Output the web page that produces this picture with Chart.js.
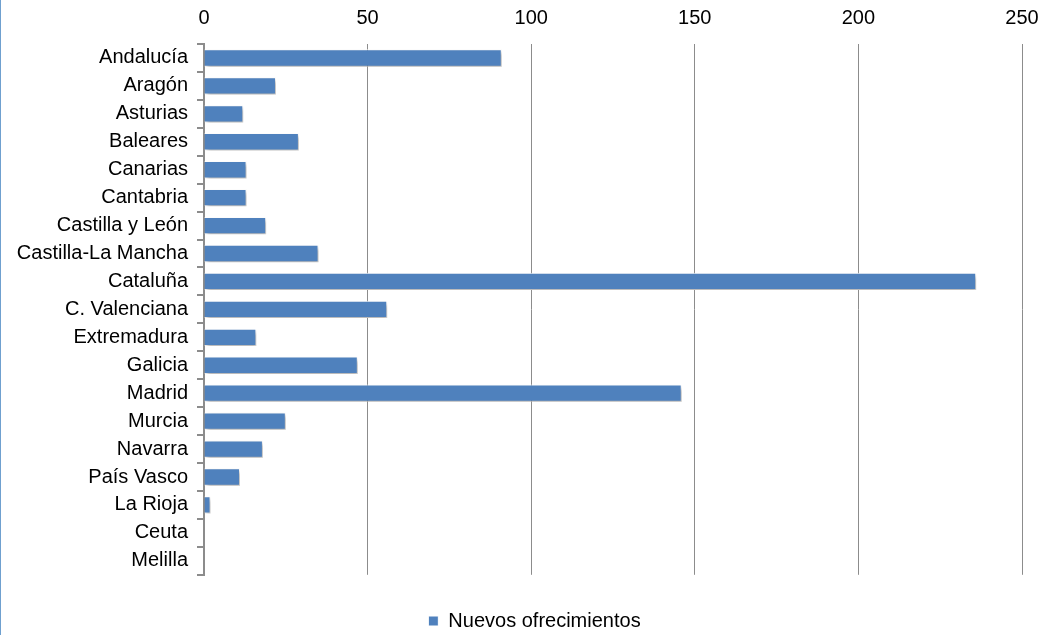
<!DOCTYPE html>
<html>
<head>
<meta charset="utf-8">
<script src="https://cdn.jsdelivr.net/npm/chart.js@4"></script>
<style>
  html, body { margin: 0; padding: 0; background: #fff; }
  #wrap { width: 1041px; height: 635px; border-left: 1px solid #6fa0cf; position: relative; }
</style>
</head>
<body>
<div id="wrap"><canvas id="chart"></canvas></div>
<script>
const regiones = ['Andalucía', 'Aragón', 'Asturias', 'Baleares', 'Canarias', 'Cantabria',
    'Castilla y León', 'Castilla-La Mancha', 'Cataluña', 'C. Valenciana', 'Extremadura',
    'Galicia', 'Madrid', 'Murcia', 'Navarra', 'País Vasco', 'La Rioja', 'Ceuta', 'Melilla'];
const ofrecimientos = [91, 22, 12, 29, 13, 13, 19, 35, 236, 56, 16, 47, 146, 25, 18, 11, 2, 0, 0];
const serieNombre = 'Nuevos ofrecimientos';

// sombra suave bajo las barras, como en el original
const barShadow = {
    id: 'barShadow',
    beforeDatasetsDraw: function (chart) {
        const ctx = chart.ctx;
        ctx.save();
        ctx.shadowColor = 'rgba(0, 0, 0, 0.3)';
        ctx.shadowBlur = 4;
        ctx.shadowOffsetX = 2;
        ctx.shadowOffsetY = 3;
    },
    afterDatasetsDraw: function (chart) {
        chart.ctx.restore();
    }
};

// la leyenda del original no está centrada en el lienzo
const legendShift = {
    id: 'legendShift',
    afterLayout: function (chart) {
        if (chart.legend) {
            chart.legend.left += 23;
            chart.legend.right += 23;
        }
    }
};

Chart.defaults.font.family = '"Liberation Sans", Arial, sans-serif';
Chart.defaults.font.size = 20;
Chart.defaults.color = '#000';

const data = {
    labels: regiones,
    datasets: [{
        label: serieNombre,
        data: ofrecimientos,
        backgroundColor: '#4f81bd',
        borderColor: '#ffffff',
        borderWidth: 1,
        barPercentage: 0.62,
        categoryPercentage: 1.0,
    }]
};

const config = {
    type: 'bar',
    data: data,
    plugins: [barShadow, legendShift],
    options: {
        indexAxis: 'y',
        responsive: true,
        maintainAspectRatio: false,
        animation: false,
        layout: {
            padding: { left: 0, right: 20, top: 6, bottom: -6 }
        },
        plugins: {
            legend: {
                position: 'bottom',
                title: {
                    display: true,
                    text: ' ',
                    font: { size: 1 },
                    padding: { top: 0, bottom: 31 }
                },
                labels: {
                    boxWidth: 10,
                    boxHeight: 10,
                    padding: 4,
                    font: { size: 20 }
                }
            },
            tooltip: { enabled: false }
        },
        scales: {
            x: {
                position: 'top',
                min: 0,
                max: 250,
                ticks: { stepSize: 50, padding: 14 },
                border: { display: false },
                grid: {
                    color: '#8c8c8c',
                    lineWidth: 1,
                    drawTicks: false
                },
                afterFit: function (scale) {
                    scale.height = 38;
                    scale.paddingLeft = 0;
                    scale.paddingRight = 0;
                }
            },
            y: {
                ticks: { padding: 9 },
                border: { display: true, color: '#8c8c8c', width: 2 },
                grid: {
                    display: true,
                    drawOnChartArea: false,
                    drawTicks: true,
                    tickLength: 7,
                    color: '#8c8c8c',
                    lineWidth: 2,
                    offset: true
                },
                afterFit: function (scale) {
                    scale.width = 203;
                }
            }
        }
    }
};

_ = new Chart(document.getElementById('chart'), config);
</script>
</body>
</html>
